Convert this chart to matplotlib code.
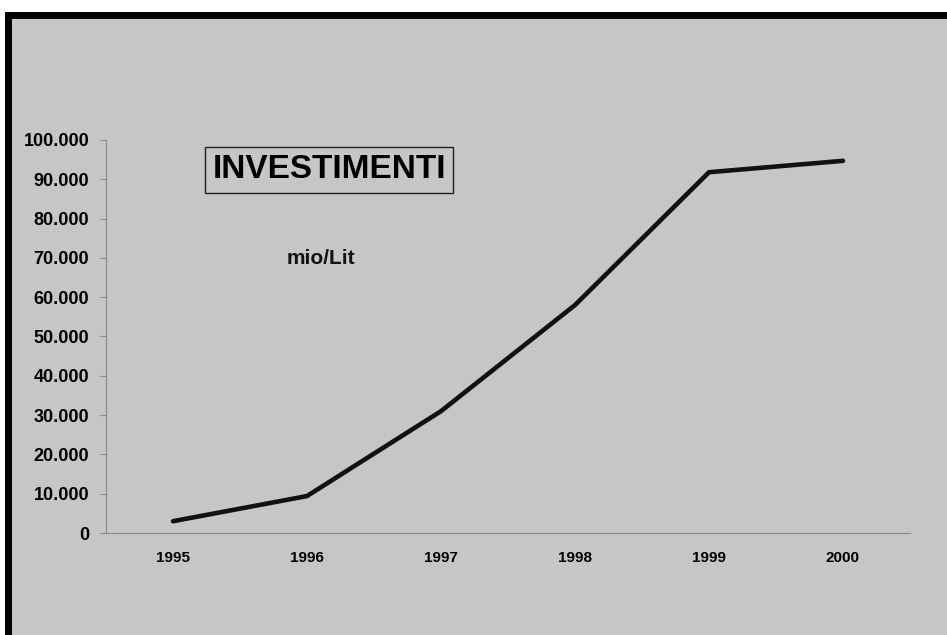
import matplotlib
matplotlib.use("Agg")
from matplotlib import pyplot as plt
from matplotlib.patches import Rectangle
from matplotlib.ticker import FuncFormatter

# values (mio/Lit)
years = ["1995", "1996", "1997", "1998", "1999", "2000"]
investimenti = [3000, 9400, 31000, 58000, 91800, 94700]
y_ticks = [0, 10000, 20000, 30000, 40000, 50000, 60000, 70000, 80000, 90000, 100000]

W, H = 947, 635
BG = "#c6c6c6"

plt.rcParams['font.family'] = ['Liberation Sans', 'DejaVu Sans']

fig = plt.figure(figsize=(W / 100, H / 100), dpi=100)
fig.patch.set_facecolor("white")

# black frame of the scanned slide + grey backdrop
fig.patches.append(Rectangle((5 / W, 0), 1, 1 - 12 / H, transform=fig.transFigure,
                             facecolor="black", edgecolor="none", zorder=-2))
fig.patches.append(Rectangle((12 / W, 0), 1, 1 - 19 / H, transform=fig.transFigure,
                             facecolor=BG, edgecolor="none", zorder=-1))

ax = fig.add_axes([106 / W, 1 - 533 / H, (910 - 106) / W, (533 - 140) / H])
ax.set_facecolor("none")

x = range(len(years))
ax.plot(x, investimenti, color="#111111", linewidth=3.3, solid_capstyle="round",
        solid_joinstyle="round")

ax.set_xlim(-0.5, len(years) - 0.5)
ax.set_ylim(0, 100000)
ax.set_xticks(list(x))
ax.set_xticklabels(years, fontsize=11, fontweight="bold")
ax.set_yticks(y_ticks)
ax.yaxis.set_major_formatter(FuncFormatter(lambda v, p: f"{int(v):,}".replace(",", ".")))
for lab in ax.get_yticklabels():
    lab.set_fontsize(13)
    lab.set_fontweight("bold")

ax.tick_params(axis="y", length=4, color="#888888", pad=8)
ax.tick_params(axis="x", length=0, pad=13)

for s in ["top", "right"]:
    ax.spines[s].set_visible(False)
for s in ["left", "bottom"]:
    ax.spines[s].set_color("#8a8a8a")
    ax.spines[s].set_linewidth(0.8)

# title box and unit
fig.text(329 / W, 1 - 170 / H, "INVESTIMENTI", fontsize=24, fontweight="bold",
         ha="center", va="center",
         bbox=dict(boxstyle="square,pad=0.22", facecolor="none", edgecolor="#222222",
                   linewidth=1.0))
fig.text(321 / W, 1 - 258 / H, "mio/Lit", fontsize=15, fontweight="bold",
         ha="center", va="center", color="#111111")

fig.savefig("out.png", dpi=100, facecolor=fig.get_facecolor())
